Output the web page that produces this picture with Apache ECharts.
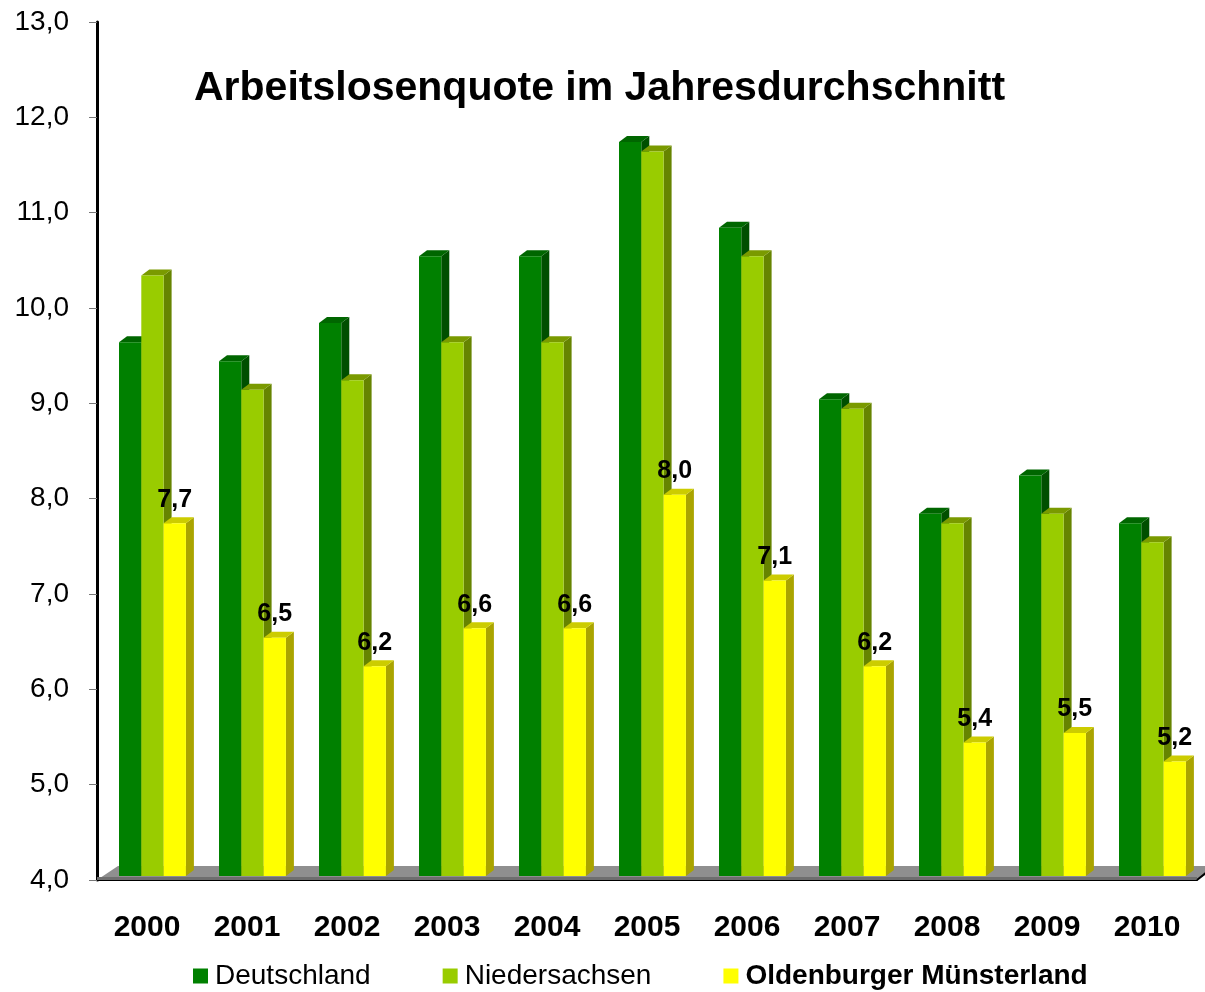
<!DOCTYPE html>
<html>
<head>
<meta charset="utf-8">
<script src="https://cdn.jsdelivr.net/npm/echarts@6/dist/echarts.min.js"></script>
<style>
html,body{margin:0;padding:0;background:#fff;}
#chart{width:1205px;height:992px;}
</style>
</head>
<body>
<div id="chart"></div>
<script>
var categories = ['2000','2001','2002','2003','2004','2005','2006','2007','2008','2009','2010'];
var deutschland = [9.6, 9.4, 9.8, 10.5, 10.5, 11.7, 10.8, 9.0, 7.8, 8.2, 7.7];
var niedersachsen = [10.3, 9.1, 9.2, 9.6, 9.6, 11.6, 10.5, 8.9, 7.7, 7.8, 7.5];
var oldenburger = [7.7, 6.5, 6.2, 6.6, 6.6, 8.0, 7.1, 6.2, 5.4, 5.5, 5.2];
var seriesNames = ['Deutschland', 'Niedersachsen', 'Oldenburger Münsterland'];
var yTicks = {min: 4, max: 13, interval: 1};
var titleText = 'Arbeitslosenquote im Jahresdurchschnitt';

var FONT = "'Liberation Sans', Arial, sans-serif";
var palettes = [
  {front: '#008000', top: '#006600', side: '#004f00'},
  {front: '#99cc00', top: '#7a9a00', side: '#668400'},
  {front: '#ffff00', top: '#cccc00', side: '#aaa400'}
];
var BAR_W = 22.3, DX = 8, DY = 6, LIFT = 4;

function fmt(v) { return v.toFixed(1).replace('.', ','); }

function makeRender(k, withLabel) {
  return function (params, api) {
    var idx = api.value(0), val = api.value(1);
    var top = api.coord([idx, val]);
    var base = api.coord([idx, yTicks.min]);
    var bw = api.size([1, 0])[0];
    var cx = top[0];
    var x0 = cx - 0.28 * bw + k * BAR_W;
    var x1 = x0 + BAR_W;
    var yT = top[1] - LIFT;
    var yB = base[1] - LIFT;
    var p = palettes[k];
    var children = [
      {type: 'polygon', shape: {points: [[x1, yT], [x1 + DX, yT - DY], [x1 + DX, yB - DY], [x1, yB]]}, style: {fill: p.side}},
      {type: 'polygon', shape: {points: [[x0, yT], [x0 + DX, yT - DY], [x1 + DX, yT - DY], [x1, yT]]}, style: {fill: p.top}},
      {type: 'rect', shape: {x: x0, y: yT, width: BAR_W, height: yB - yT}, style: {fill: p.front}}
    ];
    if (withLabel) {
      children.push({type: 'text', style: {
        text: fmt(val), x: (x0 + x1) / 2, y: yT - 11,
        align: 'center', verticalAlign: 'bottom',
        font: 'bold 25px ' + FONT, fill: '#000'
      }});
    }
    return {type: 'group', children: children};
  };
}

function floorRender(params, api) {
  var n = categories.length;
  var bw = api.size([1, 0])[0];
  var c0 = api.coord([0, yTicks.min]);
  var cN = api.coord([n - 1, yTicks.min]);
  var xL = c0[0] - bw / 2, xR = cN[0] + bw / 2, y0 = c0[1];
  return {type: 'group', children: [
    {type: 'polygon', shape: {points: [[xL, y0], [xL + 21, y0 - 14], [xR + 21, y0 - 14], [xR, y0]]}, style: {fill: '#8f8f8f'}},
    {type: 'polygon', shape: {points: [[xL, y0], [xL, y0 - 3], [xR, y0 - 3], [xR, y0]]}, style: {fill: '#6e6e6e'}},
    {type: 'line', shape: {x1: xR, y1: y0, x2: xR + 10, y2: y0 - 8}, style: {stroke: '#000', lineWidth: 2}}
  ]};
}

function toData(arr) { return arr.map(function (v, i) { return [i, v]; }); }

var chart = echarts.init(document.getElementById('chart'), null, {renderer: 'canvas'});
chart.setOption({
  animation: false,
  backgroundColor: '#fff',
  title: {
    text: titleText, left: 189, top: 63,
    textStyle: {fontFamily: FONT, fontSize: 41, fontWeight: 'bold', color: '#000'}
  },
  legend: {
    left: 188, top: 957, itemWidth: 15, itemHeight: 15, itemGap: 72,
    icon: 'rect',
    textStyle: {fontFamily: FONT, fontSize: 28, color: '#000', padding: [0, 0, 0, 2]},
    data: [
      {name: seriesNames[0]},
      {name: seriesNames[1]},
      {name: seriesNames[2], textStyle: {fontWeight: 'bold'}}
    ]
  },
  grid: {left: 97, right: 8, top: 22, bottom: 112, containLabel: false},
  xAxis: {
    type: 'category', data: categories, boundaryGap: true,
    axisLine: {lineStyle: {color: '#000', width: 2}},
    axisTick: {length: 8, lineStyle: {color: '#555', width: 1}},
    axisLabel: {fontFamily: FONT, fontSize: 30, fontWeight: 'bold', color: '#000', margin: 33}
  },
  yAxis: {
    type: 'value', min: yTicks.min, max: yTicks.max, interval: yTicks.interval,
    axisLine: {show: true, lineStyle: {color: '#000', width: 3}},
    axisTick: {show: true, length: 8, lineStyle: {color: '#777', width: 1}},
    splitLine: {show: false},
    axisLabel: {fontFamily: FONT, fontSize: 28, color: '#000', margin: 28, formatter: function (v) { return fmt(v); }}
  },
  series: [
    {type: 'custom', name: 'floor', renderItem: floorRender, data: [[0, yTicks.min]], silent: true, z: 1},
    {type: 'custom', name: seriesNames[0], renderItem: makeRender(0, false), data: toData(deutschland), itemStyle: {color: palettes[0].front}, z: 2},
    {type: 'custom', name: seriesNames[1], renderItem: makeRender(1, false), data: toData(niedersachsen), itemStyle: {color: palettes[1].front}, z: 2},
    {type: 'custom', name: seriesNames[2], renderItem: makeRender(2, true), data: toData(oldenburger), itemStyle: {color: palettes[2].front}, z: 2}
  ]
});
</script>
</body>
</html>
